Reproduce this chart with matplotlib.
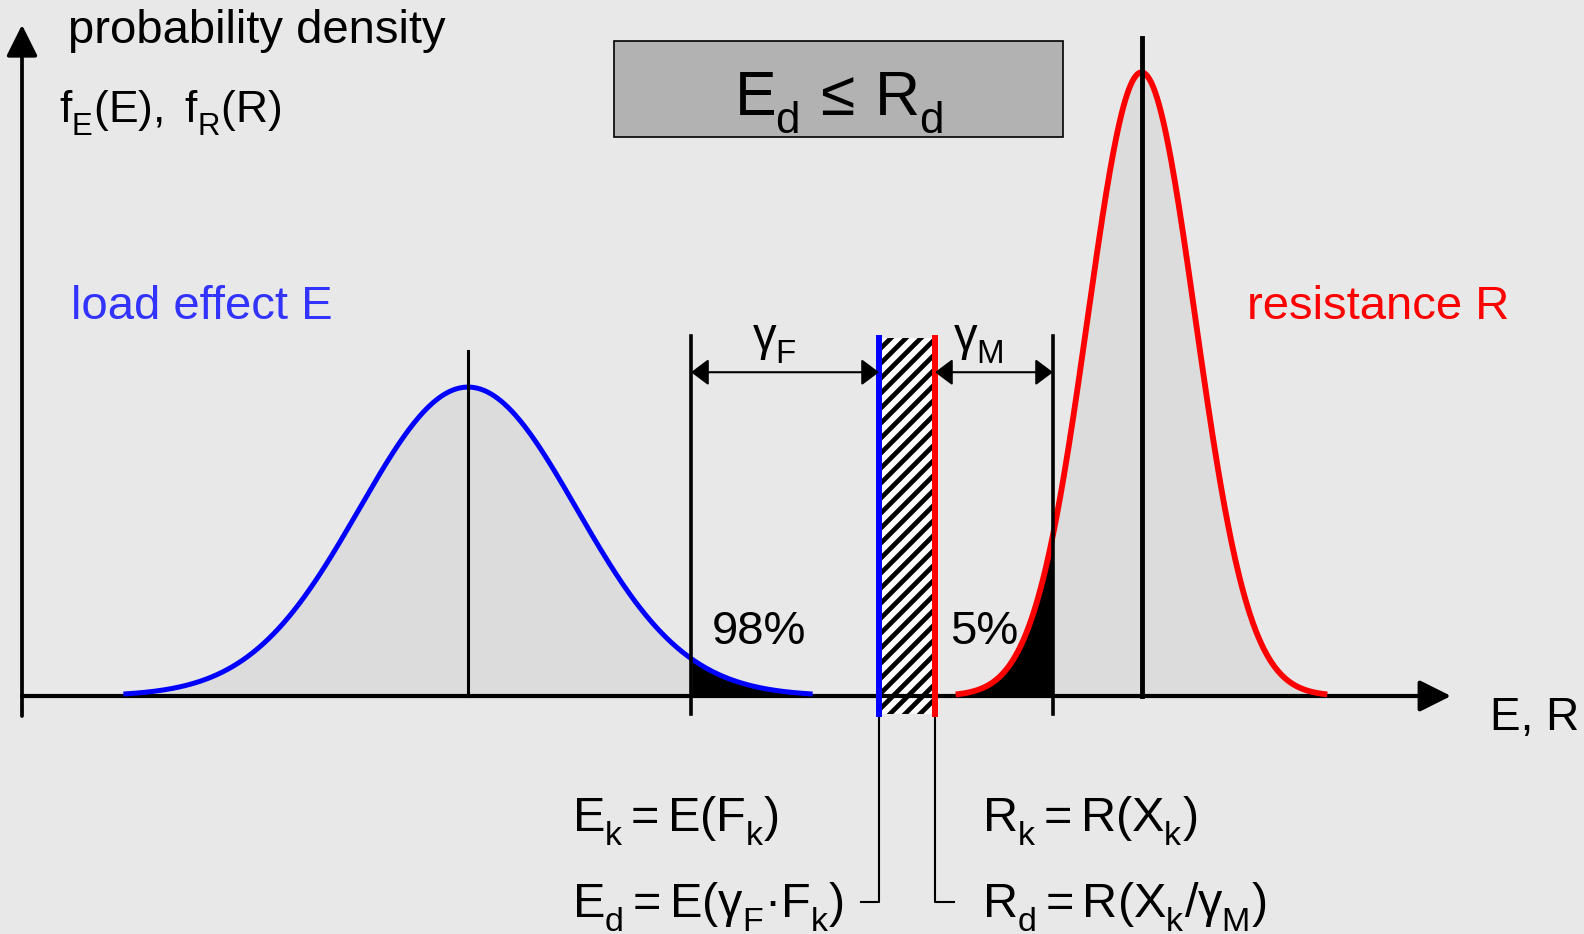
import matplotlib
matplotlib.use('Agg')
import matplotlib.pyplot as plt
import matplotlib._mathtext as mathtext_internals
import numpy as np
from statistics import NormalDist
from matplotlib.patches import Rectangle

# Distributions (x in arbitrary units, axis origin at 0)
load_mean, load_std = 4.46, 1.086
resist_mean, resist_std = 11.195, 0.538
load_fractile = 0.98      # characteristic load effect E_k
resist_fractile = 0.05    # characteristic resistance R_k
design_load = 8.57        # E_d = E(gamma_F * F_k)
design_resist = 9.13      # R_d = R(X_k / gamma_M)
fractile_labels = ['98%', '5%']

BG = '#e8e8e8'
FILL = '#dcdcdc'
BLUE = '#0000ff'
RED = '#ff0000'

plt.rcParams['font.family'] = ['Liberation Sans', 'DejaVu Sans']
plt.rcParams['mathtext.fontset'] = 'custom'
plt.rcParams['mathtext.rm'] = 'Liberation Sans'
plt.rcParams['mathtext.it'] = 'Liberation Sans'
plt.rcParams['mathtext.sf'] = 'Liberation Sans'
plt.rcParams['mathtext.bf'] = 'Liberation Sans:bold'

# drop subscripts a little lower than the mathtext default
mathtext_internals.FontConstantsBase.sub1 = 0.55


def density(mean, std, span, n=400):
    x = np.linspace(mean - span * std, mean + span * std, n)
    dist = NormalDist(mean, std)
    return x, np.array([dist.pdf(v) for v in x])


E_k = NormalDist(load_mean, load_std).inv_cdf(load_fractile)
R_k = NormalDist(resist_mean, resist_std).inv_cdf(resist_fractile)

fig = plt.figure(figsize=(15.84, 9.34), dpi=100, facecolor=BG)
ax = fig.add_axes([0, 0, 1, 1])
ax.set_facecolor(BG)
ax.set_xlim(-0.22, 15.62)
ax.set_ylim(-0.283, 0.8276)
ax.axis('off')

# density curves with grey fill and black tails
xe, ye = density(load_mean, load_std, 3.15)
xr, yr = density(resist_mean, resist_std, 3.4)
ax.fill_between(xe, 0, ye, color=FILL, lw=0, zorder=1)
ax.fill_between(xr, 0, yr, color=FILL, lw=0, zorder=1)
ax.fill_between(xe, 0, ye, where=xe >= E_k, color='k', lw=0, zorder=2)
ax.fill_between(xr, 0, yr, where=xr <= R_k, color='k', lw=0, zorder=2)

# hatched band between design values (45 degree stripes, clipped to the band)
top, bot = 0.4257, -0.0214
band = Rectangle((design_load, bot), design_resist - design_load, top - bot,
                 facecolor='white', lw=0, zorder=2)
ax.add_patch(band)
x_per_px = 1 / 100.0
y_per_px = 1 / 841.0
rise = (design_resist - design_load) / x_per_px * y_per_px
for c in np.arange(bot - rise, top, 15 * y_per_px):
    ln, = ax.plot([design_load, design_resist], [c, c + rise], color='k',
                  lw=3.4, solid_capstyle='butt', zorder=2.5)
    ln.set_clip_path(band)

# axes with arrow heads
ax.annotate('', xy=(14.29, 0), xytext=(0, 0), zorder=3,
            arrowprops=dict(arrowstyle='-|>,head_length=0.4,head_width=0.2',
                            mutation_scale=48, lw=3, color='k', shrinkA=0, shrinkB=0))
ax.annotate('', xy=(0, 0.798), xytext=(0, -0.0238), zorder=3,
            arrowprops=dict(arrowstyle='-|>,head_length=0.4,head_width=0.2',
                            mutation_scale=48, lw=2.7, color='k', shrinkA=0, shrinkB=0))

ax.plot(xe, ye, color=BLUE, lw=3.6, zorder=4)
ax.plot(xr, yr, color=RED, lw=4.2, zorder=4)

# mean and characteristic values
ax.plot([load_mean, load_mean], [0, 0.410], color='k', lw=2.2, zorder=5)
ax.plot([resist_mean, resist_mean], [0, 0.782], color='k', lw=3.5, zorder=5)
ax.plot([E_k, E_k], [bot, 0.428], color='k', lw=2.6, zorder=5)
ax.plot([R_k, R_k], [bot, 0.428], color='k', lw=2.6, zorder=5)
ax.plot([design_load, design_load], [bot, top], color=BLUE, lw=4.3, zorder=5)
ax.plot([design_resist, design_resist], [bot, top], color=RED, lw=4.3, zorder=5)

# partial safety factor arrows
arrow_y = 0.385
for x0, x1 in [(E_k, design_load), (design_resist, R_k)]:
    ax.annotate('', xy=(x1, arrow_y), xytext=(x0, arrow_y), zorder=5,
                arrowprops=dict(arrowstyle='<|-|>,head_length=0.4,head_width=0.3',
                                mutation_scale=27, lw=1.5, color='k',
                                shrinkA=0, shrinkB=0))
ax.text(7.52, 0.411, r'$γ_F$', fontsize=34, ha='center', va='baseline')
ax.text(9.56, 0.411, r'$γ_M$', fontsize=34, ha='center', va='baseline')

# brackets to design value labels
ax.plot([design_load, design_load, design_load - 0.18], [bot, -0.245, -0.245],
        color='k', lw=1.5)
ax.plot([design_resist, design_resist, design_resist + 0.19], [bot, -0.245, -0.245],
        color='k', lw=1.5)

# texts
ax.text(0.46, 0.7765, 'probability density', fontsize=34, va='baseline')
ax.text(0.37, 0.681, r'$f_E(E),\ f_R(R)$', fontsize=32, va='baseline')
ax.text(0.49, 0.448, 'load effect E', fontsize=34, color='#3333ff', va='baseline')
ax.text(12.25, 0.448, 'resistance R', fontsize=34, color=RED, va='baseline')
ax.text(14.68, -0.0404, 'E, R', fontsize=33, va='baseline')
ax.text(6.90, 0.062, fractile_labels[0], fontsize=34, va='baseline')
ax.text(9.28, 0.062, fractile_labels[1], fontsize=34, va='baseline')

ax.add_patch(Rectangle((5.92, 0.665), 4.49, 0.114, facecolor='#b2b2b2',
                       edgecolor='k', lw=1.2, zorder=3))
ax.text(8.165, 0.691, r'$E_d\,\leq\,R_d$', fontsize=45, ha='center',
        va='baseline', zorder=4)

ax.text(5.50, -0.1617, r'$E_k = E(F_k)$', fontsize=35, va='baseline')
ax.text(5.50, -0.264, r'$E_d = E(γ_F·F_k)$', fontsize=35, va='baseline')
ax.text(9.60, -0.1617, r'$R_k = R(X_k)$', fontsize=35, va='baseline')
ax.text(9.60, -0.264, r'$R_d = R(X_k/γ_M)$', fontsize=35, va='baseline')

fig.savefig('out.png', dpi=100, facecolor=BG)
